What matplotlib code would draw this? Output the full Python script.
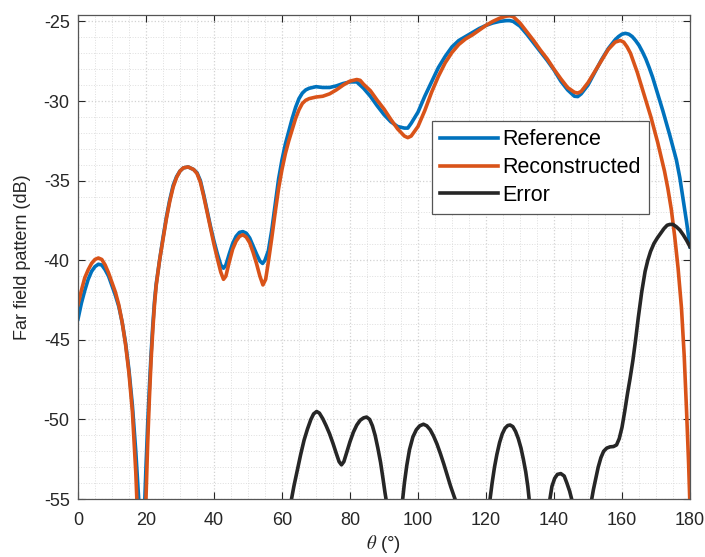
import matplotlib
matplotlib.use('Agg')
import matplotlib.pyplot as plt
from matplotlib.ticker import MultipleLocator

plt.rcParams['font.family'] = ['Liberation Sans', 'DejaVu Sans']
plt.rcParams['axes.unicode_minus'] = False
plt.rcParams['mathtext.fontset'] = 'stix'

# Reference pattern (blue)
ref_theta = [0, 1, 2, 3, 4, 5, 6, 7, 8, 9, 10, 11, 12, 13, 14, 15, 16, 17, 18, 18.8,
             19.5, 20, 20.5, 21, 21.5, 22, 22.5, 23, 24, 25, 26, 27, 28, 29, 30, 31, 32.4, 34, 35, 36,
             37, 38, 39, 40, 41, 42, 42.8, 43.5, 44.5, 45.5, 46.5, 47.5, 48.5, 49.5, 50.5, 51.5, 52.5, 53.5, 54.3, 55,
             56, 57, 58, 59, 60, 61, 62, 63, 64, 65, 66, 67, 68, 70, 72, 74, 76, 78, 80, 82,
             84, 86, 88, 90, 92, 94, 96, 97, 98, 100, 102, 104, 106, 108, 110, 112, 114, 116, 118, 120,
             122, 124, 126, 127, 128, 130, 132, 134, 136, 138, 140, 142, 144, 146, 147, 148, 150, 152, 154, 156,
             158, 159, 160, 161, 162, 163, 164, 165, 166, 167, 168, 169, 170, 171, 172, 173, 174, 175, 176, 177,
             178, 179, 180]
ref_db = [-43.7, -42.7, -41.9, -41.2, -40.7, -40.4, -40.25, -40.3, -40.6, -41.0, -41.6, -42.2, -42.9, -43.9, -45.2, -46.9, -49.1, -52.0, -55.5, -63.0,
          -56.0, -53.0, -50.3, -48.0, -45.9, -44.1, -42.6, -41.5, -40.0, -38.6, -37.3, -36.2, -35.3, -34.75, -34.4, -34.2, -34.14, -34.3, -34.5, -35.0,
          -35.9, -36.9, -37.9, -38.8, -39.6, -40.3, -40.5, -40.3, -39.6, -38.95, -38.5, -38.25, -38.2, -38.3, -38.6, -39.1, -39.6, -40.05, -40.2, -40.0,
          -39.4, -38.1, -36.5, -34.9, -33.7, -32.7, -31.9, -31.1, -30.4, -29.85, -29.5, -29.3, -29.2, -29.1, -29.15, -29.15, -29.05, -28.9, -28.8, -28.8,
          -29.2, -29.7, -30.3, -30.85, -31.3, -31.6, -31.7, -31.7, -31.4, -30.7, -29.7, -28.8, -27.9, -27.2, -26.6, -26.2, -25.95, -25.7, -25.45, -25.25,
          -25.1, -25.0, -24.95, -24.95, -25.0, -25.3, -25.8, -26.35, -26.9, -27.45, -28.05, -28.75, -29.3, -29.7, -29.72, -29.55, -29.0, -28.2, -27.4, -26.7,
          -26.15, -25.95, -25.8, -25.75, -25.8, -25.95, -26.2, -26.5, -26.9, -27.35, -27.9, -28.5, -29.2, -29.9, -30.6, -31.35, -32.1, -32.9, -33.7, -34.8,
          -36.2, -37.6, -39.15]

# Reconstructed pattern (orange)
rec_theta = [0, 1, 2, 3, 4, 5, 6, 7, 8, 9, 10, 11, 12, 13, 14, 15, 16, 17, 17.5, 18.6,
             19.6, 20, 20.5, 21, 21.5, 22, 22.5, 23, 24, 25, 26, 27, 28, 29, 30, 31, 32.4, 34, 35, 36,
             37, 38, 39, 40, 41, 42, 42.8, 43.5, 44.5, 45.5, 46.5, 47.5, 48.5, 49.5, 50.5, 51.5, 52.5, 53.5, 54.4, 55.2,
             56, 57, 58, 59, 60, 61, 62, 63, 64, 65, 66, 67, 68, 70, 72, 74, 76, 78, 80, 82,
             83, 84, 86, 88, 90, 92, 94, 96, 97, 98, 100, 102, 104, 106, 108, 110, 112, 114, 116, 118,
             120, 122, 124, 126, 127, 128, 130, 132, 134, 136, 138, 140, 142, 144, 146, 147, 148, 150, 152, 154,
             156, 158, 159.5, 160.5, 161.5, 162.5, 163.5, 164.5, 165.5, 166.5, 167.5, 168.5, 169.5, 170.5, 171.5, 172.5, 173.5, 174.5, 175.5, 176.5,
             177.5, 178.3, 179, 179.6, 180]
rec_db = [-42.8, -41.9, -41.1, -40.6, -40.2, -39.95, -39.86, -39.95, -40.3, -40.8, -41.4, -42.0, -42.8, -43.9, -45.3, -47.1, -49.5, -53.3, -56.0, -63.0,
          -57.0, -55.0, -51.5, -48.7, -46.3, -44.4, -42.8, -41.6, -40.0, -38.7, -37.4, -36.3, -35.4, -34.8, -34.4, -34.2, -34.14, -34.3, -34.55, -35.1,
          -36.0, -37.0, -38.0, -39.0, -39.9, -40.75, -41.2, -41.0, -40.1, -39.3, -38.8, -38.5, -38.4, -38.55, -38.9, -39.5, -40.2, -41.0, -41.55, -41.2,
          -40.1, -38.6, -37.0, -35.5, -34.3, -33.3, -32.5, -31.8, -31.1, -30.55, -30.15, -29.95, -29.85, -29.75, -29.7, -29.55, -29.3, -29.0, -28.75, -28.65,
          -28.7, -28.95, -29.35, -29.95, -30.5, -31.15, -31.75, -32.2, -32.3, -32.2, -31.6, -30.6, -29.45, -28.45, -27.6, -26.95, -26.45, -26.1, -25.85, -25.55,
          -25.25, -25.0, -24.8, -24.67, -24.65, -24.7, -25.1, -25.65, -26.2, -26.8, -27.35, -28.0, -28.6, -29.15, -29.45, -29.5, -29.4, -28.85, -28.15, -27.45,
          -26.75, -26.3, -26.2, -26.3, -26.6, -27.0, -27.6, -28.2, -28.9, -29.6, -30.3, -31.0, -31.8, -32.6, -33.5, -34.4, -35.5, -36.8, -38.5, -40.5,
          -43.0, -46.0, -49.5, -52.8, -55.5]

# Error (black); values below -55 only let the curve leave the axes
err_theta = [62.2, 62.8, 63.5, 64.5, 65.5, 66.5, 67.5, 68.5, 69.3, 70.2, 71, 72, 73, 74, 75, 76, 76.8, 77.5, 78.2, 79,
             80, 81, 82, 83, 84, 84.9, 85.8, 86.6, 87.4, 88.2, 89, 89.7, 90.3, 90.6, 91,
             95, 95.5, 96, 96.7, 97.5, 98.5, 99.5, 100.5, 101.6, 102.6, 103.6, 104.6, 105.6, 106.6, 107.6, 108.6, 109.6, 110.9, 111.5,
             120.6, 121.2, 121.8, 122.5, 123.2, 124, 124.8, 125.6, 126.4, 127.1, 127.9, 128.7, 129.5, 130.3, 131, 131.7, 132.3, 132.7, 133.2,
             138.4, 138.8, 139.4, 140.2, 141, 142, 143, 143.8, 144.6, 145.2, 145.6,
             150.7, 151.1, 151.6, 152.2, 153, 153.8, 154.6, 155.5, 156.5, 157.5, 158.4, 159.2, 160, 160.8, 161.6, 162.4, 163.2, 164, 164.8, 165.8,
             166.8, 167.6, 168.4, 169.4, 170.4, 171.4, 172.4, 173.3, 174.1, 175, 176, 177, 178, 179, 180]
err_db = [-57.5, -55.0, -54.2, -53.2, -52.2, -51.3, -50.6, -50.0, -49.65, -49.5, -49.6, -49.95, -50.4, -50.9, -51.5, -52.15, -52.65, -52.85, -52.65, -52.1,
          -51.4, -50.8, -50.35, -50.05, -49.9, -49.85, -50.0, -50.4, -51.0, -51.8, -52.7, -53.7, -54.6, -55.0, -57.0,
          -57.0, -55.0, -54.0, -52.9, -51.9, -51.1, -50.65, -50.4, -50.3, -50.4, -50.65, -51.05, -51.55, -52.15, -52.8, -53.5, -54.2, -55.0, -56.0,
          -57.0, -55.0, -54.0, -53.0, -52.2, -51.45, -50.9, -50.55, -50.38, -50.35, -50.45, -50.75, -51.2, -51.8, -52.5, -53.3, -54.2, -55.0, -57.0,
          -57.0, -55.0, -54.2, -53.7, -53.45, -53.4, -53.55, -54.0, -54.5, -55.0, -57.0,
          -57.0, -55.0, -54.4, -53.8, -53.0, -52.4, -52.0, -51.8, -51.72, -51.7, -51.6, -51.2, -50.5, -49.5, -48.4, -47.4, -46.3, -45.0, -43.6, -42.0,
          -40.7, -40.0, -39.45, -38.95, -38.6, -38.3, -38.0, -37.8, -37.75, -37.75, -37.9, -38.1, -38.4, -38.75, -39.15]

BLUE = '#0072BD'
ORANGE = '#D95319'
BLACK = '#262626'

fig = plt.figure(figsize=(7.05, 5.57), dpi=100)
ax = fig.add_axes([0.1106, 0.104, 0.8681, 0.869])

ax.plot(ref_theta, ref_db, color=BLUE, lw=2.6, label='Reference', solid_joinstyle='round')
ax.plot(rec_theta, rec_db, color=ORANGE, lw=2.6, label='Reconstructed', solid_joinstyle='round')
ax.plot(err_theta, err_db, color=BLACK, lw=2.6, label='Error', solid_joinstyle='round')

ax.set_xlim(0, 180)
ax.set_ylim(-55, -24.6)
ax.xaxis.set_major_locator(MultipleLocator(20))
ax.xaxis.set_minor_locator(MultipleLocator(5))
ax.yaxis.set_major_locator(MultipleLocator(5))
ax.yaxis.set_minor_locator(MultipleLocator(1))

ax.grid(which='major', color='#d2d2d2', linestyle=':', lw=0.9)
ax.grid(which='minor', color='#dedede', linestyle=':', lw=0.7)
ax.set_axisbelow(True)

ax.tick_params(which='major', direction='in', length=5, width=0.8, top=True, right=True,
               labelsize=13, colors='#262626')
ax.tick_params(axis='x', which='major', pad=9)
ax.tick_params(axis='y', which='major', pad=6)
ax.tick_params(which='minor', length=0, top=True, right=True)
for s in ax.spines.values():
    s.set_color('#555555')
    s.set_linewidth(0.9)

ax.set_xlabel(r'$\theta$ (°)', fontsize=13.5, color='#262626', labelpad=3)
ax.set_ylabel('Far field pattern (dB)', fontsize=13, color='#262626', labelpad=9)

leg = ax.legend(loc='upper left', bbox_to_anchor=(0.578, 0.781), borderaxespad=0,
                fontsize=15.5, fancybox=False, framealpha=1, edgecolor='#555555',
                handlelength=2.7, handletextpad=0.2, labelspacing=0.32, borderpad=0.38)
leg.get_frame().set_linewidth(0.9)

fig.savefig('out.png', dpi=100)
